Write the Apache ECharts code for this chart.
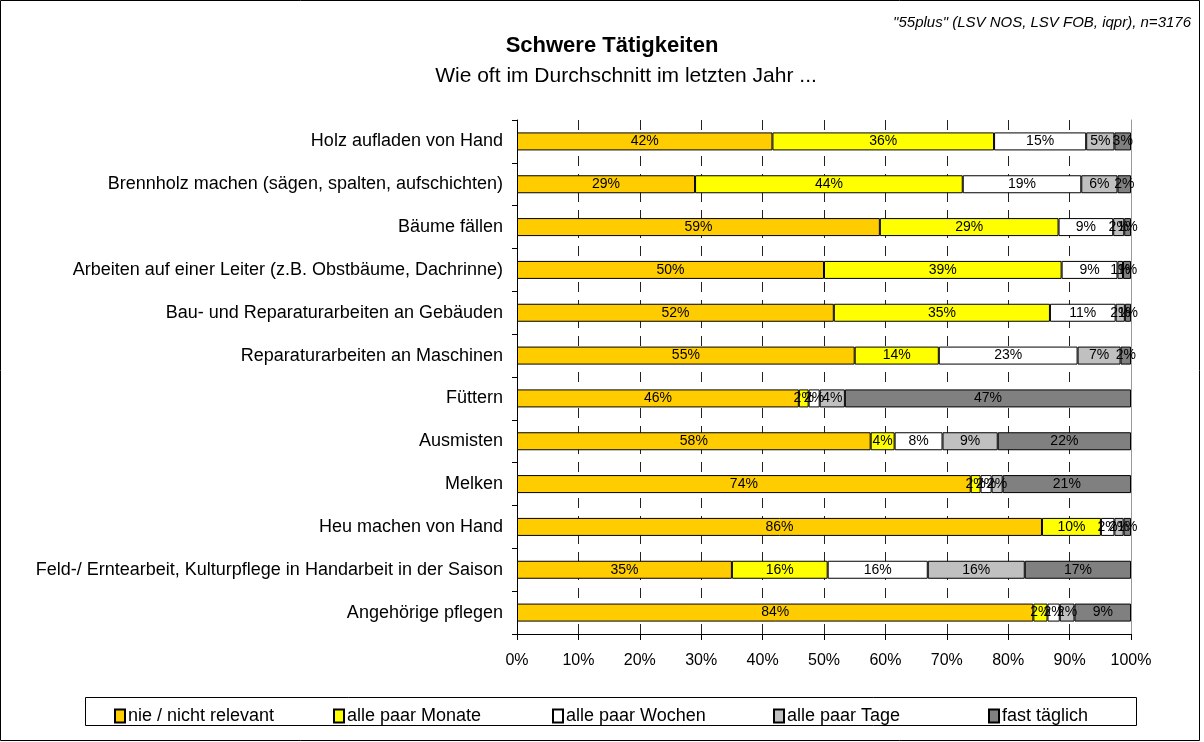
<!DOCTYPE html>
<html>
<head>
<meta charset="utf-8">
<script src="https://cdn.jsdelivr.net/npm/echarts@6/dist/echarts.min.js"></script>
<style>
  html, body { margin: 0; padding: 0; background: #fff; }
  #chart { width: 1204px; height: 742px; }
</style>
</head>
<body>
<div id="chart"></div>
<script>
// Kategorien (von oben nach unten)
var categories = [
  "Holz aufladen von Hand",
  "Brennholz machen (sägen, spalten, aufschichten)",
  "Bäume fällen",
  "Arbeiten auf einer Leiter (z.B. Obstbäume, Dachrinne)",
  "Bau- und Reparaturarbeiten an Gebäuden",
  "Reparaturarbeiten an Maschinen",
  "Füttern",
  "Ausmisten",
  "Melken",
  "Heu machen von Hand",
  "Feld-/ Erntearbeit, Kulturpflege in Handarbeit in der Saison",
  "Angehörige pflegen"
];
var seriesNames = ["nie / nicht relevant", "alle paar Monate", "alle paar Wochen", "alle paar Tage", "fast täglich"];
var colors = ["#FFCC00", "#FFFF00", "#FFFFFF", "#C0C0C0", "#808080"];

// Anteile in %
var nie     = [41.6, 29.0, 59.1, 50.0, 51.6, 55.0, 45.9, 57.6, 73.9, 85.5, 35.0, 84.1];
var monate  = [36.1, 43.6, 29.1, 38.7, 35.2, 13.7,  1.6,  3.9,  1.6,  9.6, 15.6,  2.3];
var wochen  = [15.0, 19.3,  8.9,  9.1, 10.7, 22.6,  1.8,  7.8,  1.8,  2.2, 16.3,  2.0];
var tage    = [ 4.6,  5.9,  1.8,  0.9,  1.5,  7.0,  4.1,  9.0,  1.8,  1.5, 15.8,  2.4];
var taeglich= [ 2.7,  2.2,  1.1,  1.3,  1.0,  1.7, 46.6, 21.7, 20.9,  1.2, 17.3,  9.2];
var allData = [nie, monate, wochen, tage, taeglich];

var xTicks = [0, 10, 20, 30, 40, 50, 60, 70, 80, 90, 100];

var font = "Liberation Sans, Arial, sans-serif";

var series = seriesNames.map(function (name, i) {
  return {
    name: name,
    type: "bar",
    stack: "total",
    barWidth: 18,
    data: allData[i],
    itemStyle: { color: colors[i], borderColor: "#000", borderWidth: 1 },
    label: {
      show: true,
      position: "inside",
      color: "#000",
      fontFamily: font,
      fontSize: 14,
      formatter: function (p) { return Math.round(p.value) + "%"; }
    },
    emphasis: { disabled: true }
  };
});

// x-Position je Legendeneintrag
var legendX = [109, 328, 547, 768, 983];
var legends = seriesNames.map(function (name, i) {
  return {
    data: [{ name: name, icon: "rect" }],
    left: legendX[i],
    top: 702,
    itemWidth: 10,
    itemHeight: 13,
    textStyle: { fontFamily: font, fontSize: 18, color: "#000", padding: [0, 0, 0, -2] },
    selectedMode: false
  };
});

var dom = echarts.init(document.getElementById("chart"));
var option = {
  backgroundColor: "#fff",
  animation: false,
  title: [
    {
      text: "Schwere Tätigkeiten",
      left: 607, textAlign: "center", top: 30,
      textStyle: { fontFamily: font, fontSize: 22, fontWeight: "bold", color: "#000" }
    },
    {
      text: "Wie oft im Durchschnitt im letzten Jahr ...",
      left: 621, textAlign: "center", top: 61,
      textStyle: { fontFamily: font, fontSize: 21, fontWeight: "normal", color: "#000" }
    },
    {
      text: "\"55plus\" (LSV NOS, LSV FOB, iqpr), n=3176",
      right: 8, top: 10,
      textStyle: { fontFamily: font, fontSize: 15, fontStyle: "italic", fontWeight: "normal", color: "#000" }
    }
  ],
  legend: legends,
  graphic: [
    { type: "rect", shape: { x: 0.5, y: 0.5, width: 1199, height: 740 }, style: { fill: "none", stroke: "#000", lineWidth: 1 }, silent: true },
    { type: "rect", shape: { x: 85.5, y: 697.5, width: 1051, height: 28 }, style: { fill: "none", stroke: "#000", lineWidth: 1 }, silent: true }
  ],
  grid: { left: 517, right: 73, top: 120, bottom: 108 },
  xAxis: {
    type: "value",
    min: 0, max: 100, interval: 10,
    axisLine: { show: true, lineStyle: { color: "#000" } },
    axisTick: { show: true, length: 6, lineStyle: { color: "#000" } },
    axisLabel: {
      fontFamily: font, fontSize: 16, color: "#000", margin: 19,
      formatter: function (v) { return xTicks.indexOf(v) >= 0 ? v + "%" : ""; }
    },
    splitLine: { show: true, lineStyle: { color: "#222", type: [10, 8], width: 1 } }
  },
  yAxis: [
    {
      type: "category",
      data: categories,
      inverse: true,
      axisLine: { show: true, lineStyle: { color: "#000" } },
      axisTick: { show: true, length: 5, lineStyle: { color: "#000" } },
      axisLabel: { fontFamily: font, fontSize: 18, color: "#000", margin: 14 }
    },
    {
      type: "category",
      data: categories,
      inverse: true,
      position: "right",
      axisLine: { show: true, lineStyle: { color: "#999" } },
      axisTick: { show: false },
      axisLabel: { show: false }
    }
  ],
  series: series
};
dom.setOption(option);
</script>
</body>
</html>
